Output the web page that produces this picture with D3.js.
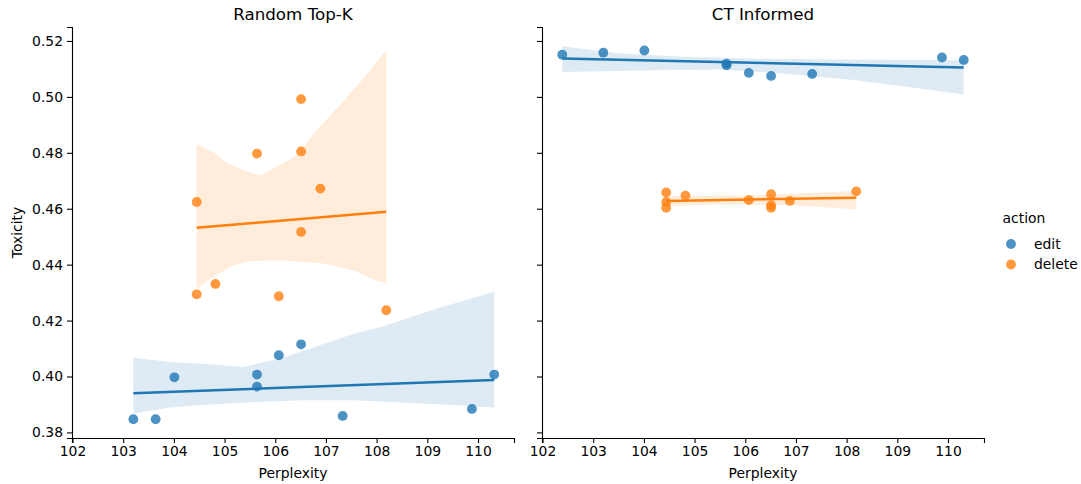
<!DOCTYPE html>
<html>
<head>
<meta charset="utf-8">
<script src="https://cdn.jsdelivr.net/npm/d3@7"></script>
<style>
  body { margin: 0; background: #fff; }
  svg { font-family: "DejaVu Sans", sans-serif; }
</style>
</head>
<body>
<svg id="chart"></svg>
<script>
// panels and hue levels
const panels = ["Random Top-K", "CT Informed"];
const actions = ["edit", "delete"];
const colors = ["#1f77b4", "#ff7f0e"];
const xTicks = [102, 103, 104, 105, 106, 107, 108, 109, 110];
const yTicks = [0.38, 0.40, 0.42, 0.44, 0.46, 0.48, 0.50, 0.52];

// Random Top-K
const rtkEditX = [103.20, 103.64, 104.01, 105.64, 105.64, 106.07, 106.51, 107.33, 109.88, 110.32];
const rtkEditY = [0.3847, 0.3847, 0.3997, 0.4007, 0.3964, 0.4076, 0.4115, 0.3859, 0.3884, 0.4007];
const rtkDeleteX = [104.45, 104.45, 104.82, 105.64, 106.07, 106.51, 106.51, 106.51, 106.89, 108.19];
const rtkDeleteY = [0.4624, 0.4294, 0.4331, 0.4797, 0.4287, 0.4992, 0.4805, 0.4517, 0.4672, 0.4237];

// CT Informed
const ctEditX = [102.39, 103.20, 104.01, 105.63, 105.63, 106.07, 106.51, 107.32, 109.88, 110.31];
const ctEditY = [0.5151, 0.5158, 0.5166, 0.5119, 0.5113, 0.5086, 0.5075, 0.5082, 0.5141, 0.5132];
const ctDeleteX = [104.44, 104.44, 104.44, 104.82, 106.07, 106.51, 106.51, 106.51, 106.88, 108.19];
const ctDeleteY = [0.4658, 0.4624, 0.4603, 0.4647, 0.4631, 0.4652, 0.4613, 0.4603, 0.4628, 0.4662];

// confidence bands (bootstrapped in the original) as [x, y]
const rtkEditUpper = [[103.20, 0.4067], [103.93, 0.4052], [104.72, 0.4044], [105.37, 0.4034], [106.16, 0.4068], [106.69, 0.4100], [107.48, 0.4148], [108.13, 0.4180], [109.19, 0.4243], [110.32, 0.4303]];
const rtkEditLower = [[103.20, 0.3868], [103.93, 0.3889], [104.72, 0.3900], [105.64, 0.3909], [106.56, 0.3915], [107.55, 0.3915], [108.53, 0.3906], [109.51, 0.3898], [110.32, 0.3889]];
const rtkDeleteUpper = [[104.45, 0.4831], [104.79, 0.4800], [105.05, 0.4764], [105.54, 0.4726], [105.71, 0.4720], [106.03, 0.4750], [106.43, 0.4791], [106.79, 0.4875], [107.21, 0.4958], [107.74, 0.5066], [108.19, 0.5167]];
const rtkDeleteLower = [[104.45, 0.4315], [104.72, 0.4350], [105.18, 0.4398], [105.51, 0.4413], [106.10, 0.4416], [106.96, 0.4404], [107.54, 0.4380], [107.94, 0.4347], [108.19, 0.4333]];
const ctEditUpper = [[102.39, 0.5181], [103.54, 0.5155], [104.85, 0.5143], [106.17, 0.5137], [107.48, 0.5135], [108.80, 0.5133], [110.31, 0.5131]];
const ctEditLower = [[102.39, 0.5089], [104.20, 0.5095], [105.51, 0.5098], [106.82, 0.5083], [108.14, 0.5060], [109.45, 0.5030], [110.31, 0.5009]];
const ctDeleteUpper = [[104.44, 0.4645], [106.17, 0.4648], [108.19, 0.4663]];
const ctDeleteLower = [[104.44, 0.4609], [105.51, 0.4616], [106.82, 0.4613], [108.19, 0.4598]];

const series = [
  [
    { x: rtkEditX, y: rtkEditY, upper: rtkEditUpper, lower: rtkEditLower },
    { x: rtkDeleteX, y: rtkDeleteY, upper: rtkDeleteUpper, lower: rtkDeleteLower }
  ],
  [
    { x: ctEditX, y: ctEditY, upper: ctEditUpper, lower: ctEditLower },
    { x: ctDeleteX, y: ctDeleteY, upper: ctDeleteUpper, lower: ctDeleteLower }
  ]
];

const width = 1081, height = 484;
const plotTop = 27, plotBottom = 438;
const panelLeft = [72, 542];
const panelWidth = 442;

const svg = d3.select("#chart").attr("width", width).attr("height", height);

const y = d3.scaleLinear().domain([0.378, 0.525]).range([plotBottom, plotTop]);

// simple least squares fit, drawn over the data range
function fit(xs, ys) {
  const mx = d3.mean(xs), my = d3.mean(ys);
  const sxy = d3.sum(xs, (v, i) => (v - mx) * (ys[i] - my));
  const sxx = d3.sum(xs, v => (v - mx) * (v - mx));
  const b = sxy / sxx;
  const a = my - b * mx;
  const [x0, x1] = d3.extent(xs);
  return [[x0, a + b * x0], [x1, a + b * x1]];
}

panels.forEach((title, p) => {
  const x = d3.scaleLinear().domain([101.99, 110.71])
    .range([panelLeft[p], panelLeft[p] + panelWidth]);
  const g = svg.append("g");

  series[p].forEach((s, k) => {
    const band = s.upper.concat(s.lower.slice().reverse());
    g.append("path")
      .attr("d", d3.line().x(d => x(d[0])).y(d => y(d[1]))(band) + "Z")
      .attr("fill", colors[k])
      .attr("fill-opacity", 0.15);
  });

  series[p].forEach((s, k) => {
    g.append("g").selectAll("circle")
      .data(s.x.map((v, i) => [v, s.y[i]]))
      .join("circle")
      .attr("cx", d => x(d[0]))
      .attr("cy", d => y(d[1]))
      .attr("r", 4.9)
      .attr("fill", colors[k])
      .attr("fill-opacity", 0.8);
  });

  series[p].forEach((s, k) => {
    g.append("path")
      .attr("d", d3.line().x(d => x(d[0])).y(d => y(d[1]))(fit(s.x, s.y)))
      .attr("stroke", colors[k])
      .attr("stroke-width", 2.5)
      .attr("fill", "none");
  });

  const xAxis = g.append("g")
    .attr("transform", `translate(0,${plotBottom})`)
    .call(d3.axisBottom(x).tickValues(xTicks).tickSizeOuter(0).tickSize(5).tickPadding(3));
  xAxis.selectAll("text").attr("font-size", 13.9).attr("fill", "#000").attr("font-family", "DejaVu Sans");

  const yAxis = g.append("g")
    .attr("transform", `translate(${panelLeft[p]},0)`)
    .call(d3.axisLeft(y).tickValues(yTicks).tickFormat(d3.format(".2f")).tickSizeOuter(0).tickSize(5).tickPadding(4));
  yAxis.selectAll("text").attr("font-size", 13.9).attr("fill", "#000").attr("font-family", "DejaVu Sans");
  if (p === 1) yAxis.selectAll("text").remove();
  [xAxis, yAxis].forEach(a => {
    a.select(".domain").attr("stroke", "#000").attr("stroke-width", 1.1);
    a.selectAll(".tick line").attr("stroke", "#000").attr("stroke-width", 1.1);
  });

  g.append("text")
    .attr("x", panelLeft[p] + panelWidth / 2)
    .attr("y", 20)
    .attr("text-anchor", "middle")
    .attr("font-size", 16.7)
    .text(title);

  g.append("text")
    .attr("x", panelLeft[p] + panelWidth / 2)
    .attr("y", 478)
    .attr("text-anchor", "middle")
    .attr("font-size", 13.9)
    .text("Perplexity");
});

svg.append("text")
  .attr("transform", `translate(22,${(plotTop + plotBottom) / 2}) rotate(-90)`)
  .attr("text-anchor", "middle")
  .attr("font-size", 13.9)
  .text("Toxicity");

// legend
const legend = svg.append("g");
legend.append("text")
  .attr("x", 1024).attr("y", 223)
  .attr("text-anchor", "middle")
  .attr("font-size", 13.9)
  .text("action");
actions.forEach((a, k) => {
  legend.append("circle")
    .attr("cx", 1011).attr("cy", 244 + k * 20.5)
    .attr("r", 4.9)
    .attr("fill", colors[k]).attr("fill-opacity", 0.8);
  legend.append("text")
    .attr("x", 1034).attr("y", 248.5 + k * 20.5)
    .attr("font-size", 13.9)
    .text(a);
});
</script>
</body>
</html>
